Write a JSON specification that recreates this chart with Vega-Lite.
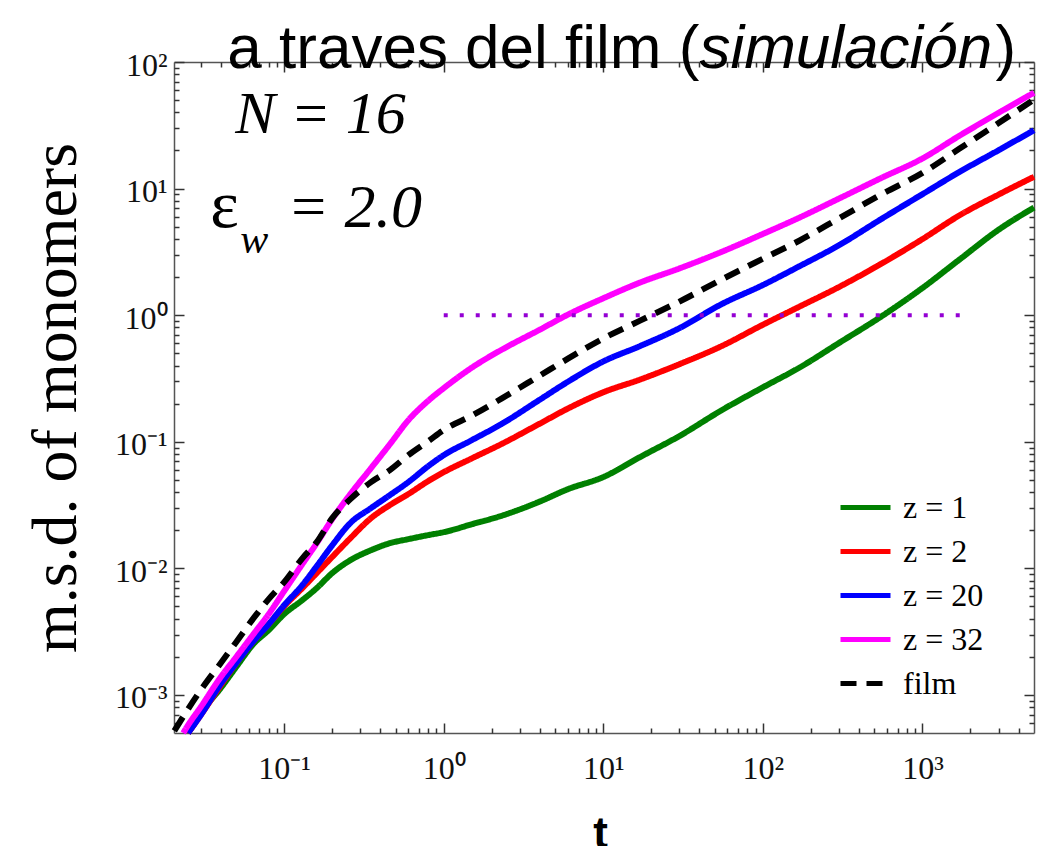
{
  "$schema": "https://vega.github.io/schema/vega-lite/v6.json",
  "width": 860,
  "height": 671,
  "autosize": "none",
  "padding": {"left": 174, "top": 62, "right": 12, "bottom": 113},
  "background": "white",
  "config": {
    "view": {"stroke": null},
    "axis": {"grid": false, "domainColor": "#555555", "domainWidth": 1.5, "tickColor": "#333333", "tickWidth": 1.5, "labelFont": "Liberation Serif", "labelFontSize": 32, "labelColor": "#111111", "labelFlush": false, "labelOverlap": false},
    "legend": {"symbolType": "stroke", "symbolSize": 2500, "symbolStrokeWidth": 5, "labelFont": "Liberation Serif", "labelFontSize": 32, "labelColor": "#000000", "labelOffset": 10, "rowPadding": 0, "padding": 0},
    "text": {"font": "Liberation Serif", "color": "#000000"}
  },
  "datasets": {
    "msd": [
      {"series": "z = 1", "t": 0.025, "msd": 0.0005},
      {"series": "z = 1", "t": 0.03, "msd": 0.000718},
      {"series": "z = 1", "t": 0.04, "msd": 0.00113},
      {"series": "z = 1", "t": 0.05, "msd": 0.00166},
      {"series": "z = 1", "t": 0.065, "msd": 0.00257},
      {"series": "z = 1", "t": 0.08, "msd": 0.00325},
      {"series": "z = 1", "t": 0.1, "msd": 0.00435},
      {"series": "z = 1", "t": 0.13, "msd": 0.00561},
      {"series": "z = 1", "t": 0.16, "msd": 0.00698},
      {"series": "z = 1", "t": 0.2, "msd": 0.00917},
      {"series": "z = 1", "t": 0.26, "msd": 0.0116},
      {"series": "z = 1", "t": 0.35, "msd": 0.0139},
      {"series": "z = 1", "t": 0.46, "msd": 0.0158},
      {"series": "z = 1", "t": 0.6, "msd": 0.017},
      {"series": "z = 1", "t": 0.8, "msd": 0.0183},
      {"series": "z = 1", "t": 1, "msd": 0.0193},
      {"series": "z = 1", "t": 1.5, "msd": 0.0223},
      {"series": "z = 1", "t": 2.3, "msd": 0.026},
      {"series": "z = 1", "t": 4, "msd": 0.0337},
      {"series": "z = 1", "t": 6, "msd": 0.0422},
      {"series": "z = 1", "t": 10, "msd": 0.0526},
      {"series": "z = 1", "t": 17, "msd": 0.0757},
      {"series": "z = 1", "t": 30, "msd": 0.111},
      {"series": "z = 1", "t": 55, "msd": 0.177},
      {"series": "z = 1", "t": 100, "msd": 0.269},
      {"series": "z = 1", "t": 170, "msd": 0.386},
      {"series": "z = 1", "t": 300, "msd": 0.603},
      {"series": "z = 1", "t": 550, "msd": 0.973},
      {"series": "z = 1", "t": 1000, "msd": 1.64},
      {"series": "z = 1", "t": 1700, "msd": 2.74},
      {"series": "z = 1", "t": 3000, "msd": 4.73},
      {"series": "z = 1", "t": 5000, "msd": 7.08},

      {"series": "z = 2", "t": 0.025, "msd": 0.0005},
      {"series": "z = 2", "t": 0.03, "msd": 0.000692},
      {"series": "z = 2", "t": 0.04, "msd": 0.00119},
      {"series": "z = 2", "t": 0.05, "msd": 0.00178},
      {"series": "z = 2", "t": 0.065, "msd": 0.00271},
      {"series": "z = 2", "t": 0.08, "msd": 0.00362},
      {"series": "z = 2", "t": 0.1, "msd": 0.00502},
      {"series": "z = 2", "t": 0.13, "msd": 0.00698},
      {"series": "z = 2", "t": 0.16, "msd": 0.00917},
      {"series": "z = 2", "t": 0.2, "msd": 0.0123},
      {"series": "z = 2", "t": 0.26, "msd": 0.0173},
      {"series": "z = 2", "t": 0.35, "msd": 0.0249},
      {"series": "z = 2", "t": 0.46, "msd": 0.0316},
      {"series": "z = 2", "t": 0.6, "msd": 0.0386},
      {"series": "z = 2", "t": 0.8, "msd": 0.0489},
      {"series": "z = 2", "t": 1, "msd": 0.0575},
      {"series": "z = 2", "t": 1.5, "msd": 0.0739},
      {"series": "z = 2", "t": 2.3, "msd": 0.0959},
      {"series": "z = 2", "t": 4, "msd": 0.139},
      {"series": "z = 2", "t": 6, "msd": 0.183},
      {"series": "z = 2", "t": 10, "msd": 0.246},
      {"series": "z = 2", "t": 17, "msd": 0.31},
      {"series": "z = 2", "t": 30, "msd": 0.41},
      {"series": "z = 2", "t": 55, "msd": 0.569},
      {"series": "z = 2", "t": 100, "msd": 0.84},
      {"series": "z = 2", "t": 170, "msd": 1.17},
      {"series": "z = 2", "t": 300, "msd": 1.67},
      {"series": "z = 2", "t": 550, "msd": 2.54},
      {"series": "z = 2", "t": 1000, "msd": 3.99},
      {"series": "z = 2", "t": 1700, "msd": 6.13},
      {"series": "z = 2", "t": 3000, "msd": 8.97},
      {"series": "z = 2", "t": 5000, "msd": 12.4},

      {"series": "z = 20", "t": 0.025, "msd": 0.0005},
      {"series": "z = 20", "t": 0.03, "msd": 0.000692},
      {"series": "z = 20", "t": 0.04, "msd": 0.00122},
      {"series": "z = 20", "t": 0.05, "msd": 0.00178},
      {"series": "z = 20", "t": 0.065, "msd": 0.00271},
      {"series": "z = 20", "t": 0.08, "msd": 0.00362},
      {"series": "z = 20", "t": 0.1, "msd": 0.00511},
      {"series": "z = 20", "t": 0.13, "msd": 0.00737},
      {"series": "z = 20", "t": 0.16, "msd": 0.0104},
      {"series": "z = 20", "t": 0.2, "msd": 0.0152},
      {"series": "z = 20", "t": 0.26, "msd": 0.0228},
      {"series": "z = 20", "t": 0.35, "msd": 0.0299},
      {"series": "z = 20", "t": 0.46, "msd": 0.0379},
      {"series": "z = 20", "t": 0.6, "msd": 0.048},
      {"series": "z = 20", "t": 0.8, "msd": 0.0642},
      {"series": "z = 20", "t": 1, "msd": 0.0783},
      {"series": "z = 20", "t": 1.5, "msd": 0.103},
      {"series": "z = 20", "t": 2.3, "msd": 0.138},
      {"series": "z = 20", "t": 4, "msd": 0.215},
      {"series": "z = 20", "t": 6, "msd": 0.298},
      {"series": "z = 20", "t": 10, "msd": 0.431},
      {"series": "z = 20", "t": 17, "msd": 0.57},
      {"series": "z = 20", "t": 30, "msd": 0.79},
      {"series": "z = 20", "t": 55, "msd": 1.22},
      {"series": "z = 20", "t": 100, "msd": 1.73},
      {"series": "z = 20", "t": 170, "msd": 2.44},
      {"series": "z = 20", "t": 300, "msd": 3.57},
      {"series": "z = 20", "t": 550, "msd": 5.73},
      {"series": "z = 20", "t": 1000, "msd": 9.03},
      {"series": "z = 20", "t": 1700, "msd": 13.5},
      {"series": "z = 20", "t": 3000, "msd": 20.1},
      {"series": "z = 20", "t": 5000, "msd": 28.9},

      {"series": "z = 32", "t": 0.0233, "msd": 0.0005},
      {"series": "z = 32", "t": 0.025, "msd": 0.000577},
      {"series": "z = 32", "t": 0.03, "msd": 0.000802},
      {"series": "z = 32", "t": 0.04, "msd": 0.00138},
      {"series": "z = 32", "t": 0.05, "msd": 0.00199},
      {"series": "z = 32", "t": 0.065, "msd": 0.00308},
      {"series": "z = 32", "t": 0.08, "msd": 0.00435},
      {"series": "z = 32", "t": 0.1, "msd": 0.00661},
      {"series": "z = 32", "t": 0.13, "msd": 0.0108},
      {"series": "z = 32", "t": 0.16, "msd": 0.0158},
      {"series": "z = 32", "t": 0.2, "msd": 0.0245},
      {"series": "z = 32", "t": 0.26, "msd": 0.0386},
      {"series": "z = 32", "t": 0.35, "msd": 0.0618},
      {"series": "z = 32", "t": 0.46, "msd": 0.0957},
      {"series": "z = 32", "t": 0.6, "msd": 0.148},
      {"series": "z = 32", "t": 0.8, "msd": 0.211},
      {"series": "z = 32", "t": 1, "msd": 0.265},
      {"series": "z = 32", "t": 1.5, "msd": 0.385},
      {"series": "z = 32", "t": 2.3, "msd": 0.532},
      {"series": "z = 32", "t": 4, "msd": 0.768},
      {"series": "z = 32", "t": 6, "msd": 1.01},
      {"series": "z = 32", "t": 10, "msd": 1.36},
      {"series": "z = 32", "t": 17, "msd": 1.81},
      {"series": "z = 32", "t": 30, "msd": 2.34},
      {"series": "z = 32", "t": 55, "msd": 3.16},
      {"series": "z = 32", "t": 100, "msd": 4.38},
      {"series": "z = 32", "t": 170, "msd": 5.91},
      {"series": "z = 32", "t": 300, "msd": 8.34},
      {"series": "z = 32", "t": 550, "msd": 12.1},
      {"series": "z = 32", "t": 1000, "msd": 17.3},
      {"series": "z = 32", "t": 1700, "msd": 26.1},
      {"series": "z = 32", "t": 3000, "msd": 39.7},
      {"series": "z = 32", "t": 5000, "msd": 57.2},

      {"series": "film", "t": 0.0205, "msd": 0.00052},
      {"series": "film", "t": 0.025, "msd": 0.000773},
      {"series": "film", "t": 0.03, "msd": 0.00109},
      {"series": "film", "t": 0.04, "msd": 0.00178},
      {"series": "film", "t": 0.05, "msd": 0.00261},
      {"series": "film", "t": 0.065, "msd": 0.00411},
      {"series": "film", "t": 0.08, "msd": 0.00571},
      {"series": "film", "t": 0.1, "msd": 0.00778},
      {"series": "film", "t": 0.13, "msd": 0.012},
      {"series": "film", "t": 0.16, "msd": 0.0161},
      {"series": "film", "t": 0.2, "msd": 0.0249},
      {"series": "film", "t": 0.26, "msd": 0.0352},
      {"series": "film", "t": 0.35, "msd": 0.048},
      {"series": "film", "t": 0.46, "msd": 0.0597},
      {"series": "film", "t": 0.6, "msd": 0.0783},
      {"series": "film", "t": 0.8, "msd": 0.101},
      {"series": "film", "t": 1, "msd": 0.124},
      {"series": "film", "t": 1.5, "msd": 0.161},
      {"series": "film", "t": 2.3, "msd": 0.219},
      {"series": "film", "t": 4, "msd": 0.333},
      {"series": "film", "t": 6, "msd": 0.453},
      {"series": "film", "t": 10, "msd": 0.655},
      {"series": "film", "t": 17, "msd": 0.905},
      {"series": "film", "t": 30, "msd": 1.28},
      {"series": "film", "t": 55, "msd": 1.91},
      {"series": "film", "t": 100, "msd": 2.79},
      {"series": "film", "t": 170, "msd": 3.89},
      {"series": "film", "t": 300, "msd": 5.82},
      {"series": "film", "t": 550, "msd": 8.97},
      {"series": "film", "t": 1000, "msd": 13.3},
      {"series": "film", "t": 1700, "msd": 20.6},
      {"series": "film", "t": 3000, "msd": 33.0},
      {"series": "film", "t": 5000, "msd": 50.4}
    ]
  },
  "layer": [
    {
      "data": {"name": "msd"},
      "mark": {"type": "line", "strokeWidth": 6, "strokeCap": "butt", "interpolate": "monotone"},
      "encoding": {
        "x": {"field": "t", "type": "quantitative",
          "scale": {"type": "log", "domain": [0.0204, 5000], "nice": false},
          "axis": {"orient": "bottom", "values": [0.1, 1, 10, 100, 1000], "tickSize": -10, "labelPadding": 30,
            "labelExpr": "datum.value < 0.5 ? '10⁻¹' : datum.value < 5 ? '10⁰' : datum.value < 50 ? '10¹' : datum.value < 500 ? '10²' : '10³'",
            "title": "t", "titleFont": "Liberation Sans", "titleFontWeight": "bold", "titleFontSize": 44, "titleColor": "#000000",
            "titleX": 426, "titleY": 114, "titleBaseline": "alphabetic", "titleAlign": "center"}},
        "y": {"field": "msd", "type": "quantitative",
          "scale": {"type": "log", "domain": [0.0005, 100], "nice": false},
          "axis": {"orient": "left", "values": [0.001, 0.01, 0.1, 1, 10, 100], "tickSize": -10, "labelPadding": 17, "labelOffset": 3,
            "labelExpr": "datum.value < 0.005 ? '10⁻³' : datum.value < 0.05 ? '10⁻²' : datum.value < 0.5 ? '10⁻¹' : datum.value < 5 ? '10⁰' : datum.value < 50 ? '10¹' : '10²'",
            "title": "m.s.d. of monomers", "titleFont": "Liberation Serif", "titleFontWeight": "normal", "titleFontSize": 64, "titleColor": "#000000",
            "titleAngle": 270, "titleX": -99, "titleY": 335.5, "titleBaseline": "alphabetic", "titleAlign": "center"}},
        "color": {"field": "series", "type": "nominal",
          "scale": {"domain": ["z = 1", "z = 2", "z = 20", "z = 32", "film"], "range": ["#008000", "#FF0000", "#0000FF", "#FF00FF", "#000000"]},
          "legend": {"title": null, "orient": "none", "legendX": 664, "legendY": 418}},
        "strokeDash": {"field": "series", "type": "nominal",
          "scale": {"domain": ["z = 1", "z = 2", "z = 20", "z = 32", "film"], "range": [[1, 0], [1, 0], [1, 0], [1, 0], [16, 10]]},
          "legend": {"title": null, "orient": "none", "legendX": 664, "legendY": 418}}
      }
    },
    {
      "data": {"values": [{}]},
      "mark": {"type": "rule", "color": "#9400D3", "strokeWidth": 4, "strokeDash": [4, 12]},
      "encoding": {
        "x": {"datum": 1, "type": "quantitative", "scale": {"type": "log", "domain": [0.0204, 5000], "nice": false},
          "axis": {"orient": "bottom", "values": [0.03, 0.04, 0.05, 0.06, 0.07, 0.08, 0.09, 0.2, 0.3, 0.4, 0.5, 0.6, 0.7, 0.8, 0.9, 2, 3, 4, 5, 6, 7, 8, 9, 20, 30, 40, 50, 60, 70, 80, 90, 200, 300, 400, 500, 600, 700, 800, 900, 2000, 3000, 4000], "tickSize": -5, "labels": false, "domain": false, "title": null}},
        "x2": {"datum": 2000},
        "y": {"datum": 1, "type": "quantitative", "scale": {"type": "log", "domain": [0.0005, 100], "nice": false},
          "axis": {"orient": "left", "values": [0.0006, 0.0007, 0.0008, 0.0009, 0.002, 0.003, 0.004, 0.005, 0.006, 0.007, 0.008, 0.009, 0.02, 0.03, 0.04, 0.05, 0.06, 0.07, 0.08, 0.09, 0.2, 0.3, 0.4, 0.5, 0.6, 0.7, 0.8, 0.9, 2, 3, 4, 5, 6, 7, 8, 9, 20, 30, 40, 50, 60, 70, 80, 90], "tickSize": -5, "labels": false, "domain": false, "title": null}}
      }
    },
    {
      "data": {"values": [{}]},
      "mark": {"type": "text", "text": "a traves del film (", "font": "Liberation Sans", "fontSize": 62, "align": "right", "baseline": "alphabetic"},
      "encoding": {
        "x": {"datum": 40, "type": "quantitative", "scale": {"type": "log", "domain": [0.0204, 5000], "nice": false},
          "axis": {"orient": "top", "values": [0.1, 1, 10, 100, 1000], "tickSize": -10, "labels": false, "title": null}},
        "y": {"datum": 89.3, "type": "quantitative", "scale": {"type": "log", "domain": [0.0005, 100], "nice": false},
          "axis": {"orient": "right", "values": [0.001, 0.01, 0.1, 1, 10, 100], "tickSize": -10, "labels": false, "title": null}}
      }
    },
    {
      "data": {"values": [{}]},
      "mark": {"type": "text", "text": "simulación", "font": "Liberation Sans", "fontStyle": "italic", "fontSize": 62, "align": "left", "baseline": "alphabetic"},
      "encoding": {
        "x": {"datum": 40, "type": "quantitative", "scale": {"type": "log", "domain": [0.0204, 5000], "nice": false},
          "axis": {"orient": "top", "values": [0.03, 0.04, 0.05, 0.06, 0.07, 0.08, 0.09, 0.2, 0.3, 0.4, 0.5, 0.6, 0.7, 0.8, 0.9, 2, 3, 4, 5, 6, 7, 8, 9, 20, 30, 40, 50, 60, 70, 80, 90, 200, 300, 400, 500, 600, 700, 800, 900, 2000, 3000, 4000], "tickSize": -5, "labels": false, "domain": false, "title": null}},
        "y": {"datum": 89.3, "type": "quantitative", "scale": {"type": "log", "domain": [0.0005, 100], "nice": false},
          "axis": {"orient": "right", "values": [0.0006, 0.0007, 0.0008, 0.0009, 0.002, 0.003, 0.004, 0.005, 0.006, 0.007, 0.008, 0.009, 0.02, 0.03, 0.04, 0.05, 0.06, 0.07, 0.08, 0.09, 0.2, 0.3, 0.4, 0.5, 0.6, 0.7, 0.8, 0.9, 2, 3, 4, 5, 6, 7, 8, 9, 20, 30, 40, 50, 60, 70, 80, 90], "tickSize": -5, "labels": false, "domain": false, "title": null}}
      }
    },
    {
      "data": {"values": [{}]},
      "mark": {"type": "text", "text": ")", "font": "Liberation Sans", "fontSize": 62, "align": "left", "baseline": "alphabetic"},
      "encoding": {
        "x": {"datum": 2870, "type": "quantitative", "scale": {"type": "log", "domain": [0.0204, 5000], "nice": false}, "axis": null},
        "y": {"datum": 89.3, "type": "quantitative", "scale": {"type": "log", "domain": [0.0005, 100], "nice": false}, "axis": null}
      }
    },
    {
      "data": {"values": [{}]},
      "mark": {"type": "text", "text": "N = 16", "fontStyle": "italic", "fontSize": 60, "align": "left", "baseline": "alphabetic"},
      "encoding": {
        "x": {"datum": 0.0493, "type": "quantitative", "scale": {"type": "log", "domain": [0.0204, 5000], "nice": false}, "axis": null},
        "y": {"datum": 27.4, "type": "quantitative", "scale": {"type": "log", "domain": [0.0005, 100], "nice": false}, "axis": null}
      }
    },
    {
      "data": {"values": [{}]},
      "mark": {"type": "text", "text": "ε", "fontSize": 68, "align": "left", "baseline": "alphabetic"},
      "encoding": {
        "x": {"datum": 0.0344, "type": "quantitative", "scale": {"type": "log", "domain": [0.0204, 5000], "nice": false}, "axis": null},
        "y": {"datum": 4.96, "type": "quantitative", "scale": {"type": "log", "domain": [0.0005, 100], "nice": false}, "axis": null}
      }
    },
    {
      "data": {"values": [{}]},
      "mark": {"type": "text", "text": "w", "fontStyle": "italic", "fontSize": 42, "align": "left", "baseline": "alphabetic"},
      "encoding": {
        "x": {"datum": 0.053, "type": "quantitative", "scale": {"type": "log", "domain": [0.0204, 5000], "nice": false}, "axis": null},
        "y": {"datum": 3.09, "type": "quantitative", "scale": {"type": "log", "domain": [0.0005, 100], "nice": false}, "axis": null}
      }
    },
    {
      "data": {"values": [{}]},
      "mark": {"type": "text", "text": "= 2.0", "fontStyle": "italic", "fontSize": 62, "align": "left", "baseline": "alphabetic"},
      "encoding": {
        "x": {"datum": 0.1044, "type": "quantitative", "scale": {"type": "log", "domain": [0.0204, 5000], "nice": false}, "axis": null},
        "y": {"datum": 4.96, "type": "quantitative", "scale": {"type": "log", "domain": [0.0005, 100], "nice": false}, "axis": null}
      }
    }
  ],
  "resolve": {"axis": {"x": "independent", "y": "independent"}}
}
